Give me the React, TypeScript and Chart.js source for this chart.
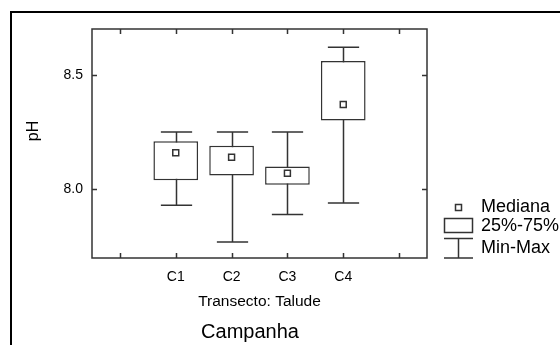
import { useEffect, useRef } from "react";
import { Chart, registerables } from "chart.js";

Chart.register(...registerables);

// Campaign categories (padded with empty slots at both ends of the axis)
const categories = ["", "C1", "C2", "C3", "C4", ""];
const minValues = [null, 7.93, 7.77, 7.89, 7.94, null];
const q1Values = [null, 8.04, 8.06, 8.02, 8.3, null];
const medianValues = [null, 8.16, 8.14, 8.07, 8.37, null];
const q3Values = [null, 8.21, 8.19, 8.1, 8.56, null];
const maxValues = [null, 8.25, 8.25, 8.25, 8.62, null];
const yTicks = [8.0, 8.5];
const yRange = [7.7, 8.7];
const legendLabels = ["Mediana", "25%-75%", "Min-Max"];
const yTitle = "pH";
const xTitle = "Transecto: Talude";
const groupTitle = "Campanha";

const FONT = "'Liberation Sans', Arial, Helvetica, sans-serif";
const INK = "#000";
const LINE = "#333";

const boxPlotDecor = {
  id: "boxPlotDecor",
  beforeDraw(chart: any) {
    const { ctx } = chart;
    ctx.save();
    ctx.strokeStyle = "#000";
    ctx.lineWidth = 2;
    ctx.beginPath();
    ctx.moveTo(11, 400);
    ctx.lineTo(11, 12);
    ctx.lineTo(600, 12);
    ctx.stroke();
    ctx.restore();
  },
  beforeDatasetsDraw(chart: any) {
    // whiskers (min-max) drawn under the boxes
    const { ctx, scales } = chart;
    const x = scales.x;
    const y = scales.y;
    const step = x.getPixelForValue(1) - x.getPixelForValue(0);
    const capHalf = step * 0.28;
    ctx.save();
    ctx.strokeStyle = LINE;
    ctx.lineWidth = 1.5;
    categories.forEach((_, i) => {
      const lo = minValues[i];
      const hi = maxValues[i];
      if (lo == null || hi == null) return;
      const px = Math.round(x.getPixelForValue(i)) + 0.5;
      const yLo = y.getPixelForValue(lo);
      const yHi = y.getPixelForValue(hi);
      ctx.beginPath();
      ctx.moveTo(px, yHi);
      ctx.lineTo(px, yLo);
      ctx.moveTo(px - capHalf, yHi);
      ctx.lineTo(px + capHalf, yHi);
      ctx.moveTo(px - capHalf, yLo);
      ctx.lineTo(px + capHalf, yLo);
      ctx.stroke();
    });
    ctx.restore();
  },
  afterDraw(chart: any) {
    const { ctx, chartArea, scales } = chart;
    const { left, right, top, bottom } = chartArea;
    const x = scales.x;
    const y = scales.y;
    ctx.save();
    // plot frame
    ctx.strokeStyle = LINE;
    ctx.lineWidth = 1.5;
    ctx.strokeRect(left, top, right - left, bottom - top);
    // inward tick marks on all four sides
    const tl = 5;
    ctx.beginPath();
    categories.forEach((_, i) => {
      const px = Math.round(x.getPixelForTick(i)) + 0.5;
      ctx.moveTo(px, bottom);
      ctx.lineTo(px, bottom - tl);
      ctx.moveTo(px, top);
      ctx.lineTo(px, top + tl);
    });
    y.ticks.forEach((t: any) => {
      const py = Math.round(y.getPixelForValue(t.value)) + 0.5;
      ctx.moveTo(left, py);
      ctx.lineTo(left + tl, py);
      ctx.moveTo(right, py);
      ctx.lineTo(right - tl, py);
    });
    ctx.stroke();

    // axis titles
    ctx.fillStyle = INK;
    ctx.textAlign = "center";
    ctx.textBaseline = "middle";
    ctx.save();
    ctx.translate(34, 131);
    ctx.rotate(-Math.PI / 2);
    ctx.font = `16px ${FONT}`;
    ctx.fillText(yTitle, 0, 0);
    ctx.restore();
    ctx.font = `20px ${FONT}`;
    ctx.fillText(groupTitle, 250, 332);

    // legend
    const cx = 458.5;
    ctx.strokeStyle = LINE;
    ctx.lineWidth = 1.5;
    ctx.strokeRect(cx - 3, 204.5, 6, 6);
    ctx.strokeRect(444.5, 218.5, 28, 14);
    ctx.beginPath();
    ctx.moveTo(444, 238.5);
    ctx.lineTo(473, 238.5);
    ctx.moveTo(cx, 238.5);
    ctx.lineTo(cx, 258);
    ctx.moveTo(444, 258);
    ctx.lineTo(473, 258);
    ctx.stroke();
    ctx.textAlign = "left";
    ctx.font = `18px ${FONT}`;
    const ys = [207, 226, 248];
    legendLabels.forEach((t, i) => ctx.fillText(t, 481, ys[i]));
    ctx.restore();
  },
};

export default function App() {
  const canvasRef = useRef<HTMLCanvasElement | null>(null);

  useEffect(() => {
    const canvas = canvasRef.current;
    if (!canvas) return;
    const boxes = categories.map((_, i) =>
      q1Values[i] != null && q3Values[i] != null ? [q1Values[i], q3Values[i]] : null
    );
    const chart = new Chart(canvas, {
      type: "bar",
      data: {
        labels: categories,
        datasets: [
          {
            type: "bar",
            label: "25%-75%",
            data: boxes as any,
            backgroundColor: "#fff",
            borderColor: LINE,
            borderWidth: 1.5,
            borderSkipped: false,
            barPercentage: 0.8,
            categoryPercentage: 1,
            order: 1,
          },
          {
            type: "line",
            label: "Mediana",
            data: medianValues as any,
            showLine: false,
            pointStyle: "rect",
            pointRadius: 4.2,
            pointBackgroundColor: "#fff",
            pointBorderColor: LINE,
            pointBorderWidth: 1.5,
            order: 0,
          },
        ],
      },
      options: {
        responsive: false,
        animation: false,
        events: [],
        layout: { padding: { left: 0, top: 29, right: 133, bottom: 30 } },
        plugins: {
          legend: { display: false },
          tooltip: { enabled: false },
          title: { display: false },
        },
        scales: {
          x: {
            type: "category",
            offset: true,
            grid: { display: false, drawTicks: false },
            border: { display: false },
            ticks: {
              autoSkip: false,
              maxRotation: 0,
              padding: 11,
              color: INK,
              font: { family: FONT, size: 14 },
            },
            title: {
              display: true,
              text: xTitle,
              color: INK,
              font: { family: FONT, size: 15.5 },
              padding: { top: 0, bottom: 4 },
            },
            afterFit: (scale: any) => {
              scale.height = 57;
            },
          },
          y: {
            type: "linear",
            min: yRange[0],
            max: yRange[1],
            grid: { display: false, drawTicks: false },
            border: { display: false },
            afterBuildTicks: (scale: any) => {
              scale.ticks = yTicks.map((v) => ({ value: v }));
            },
            ticks: {
              padding: 9,
              color: INK,
              font: { family: FONT, size: 14 },
              callback: (v: any) => Number(v).toFixed(1),
            },
            afterFit: (scale: any) => {
              scale.width = 92;
            },
          },
        },
      },
      plugins: [boxPlotDecor],
    });
    return () => chart.destroy();
  }, []);

  return (
    <div style={{ position: "absolute", left: 0, top: 0, width: 560, height: 345, background: "#fff", overflow: "hidden" }}>
      <canvas ref={canvasRef} width={560} height={345} style={{ display: "block" }} />
    </div>
  );
}
